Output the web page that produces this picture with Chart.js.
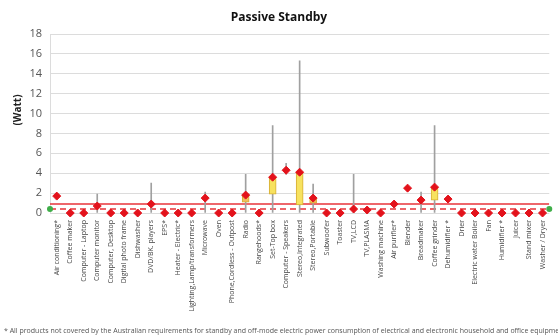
<!DOCTYPE html>
<html>
<head>
<meta charset="utf-8">
<script src="https://cdn.jsdelivr.net/npm/chart.js@4"></script>
<style>
  html, body { margin: 0; padding: 0; background: #fff; }
  #wrap { position: relative; width: 558px; height: 336px; overflow: hidden; }
  #note { position: absolute; left: 4px; top: 326px; font: 7px "Open Sans", sans-serif; color: #555; white-space: nowrap; }
</style>
</head>
<body>
<div id="wrap">
  <canvas id="myChart" width="558" height="336"></canvas>
  <div id="note">* All products not covered by the Australian requirements for standby and off-mode electric power consumption of electrical and electronic household and office equipment</div>
</div>
<script>
const categories = [
  "Air conditioning*", "Coffee maker", "Computer - Laptop", "Computer monitor",
  "Computer, Desktop", "Digital photo frame", "Dishwasher", "DVD/BK. players",
  "EPS*", "Heater - Electric*", "Lighting,Lamp/transformers", "Microwave", "Oven",
  "Phone,Cordless - Outpost", "Radio", "Rangehoods*", "Set-Top box",
  "Computer - Speakers", "Stereo,Integrated", "Stereo,Portable", "Subwoofer",
  "Toaster", "TV,LCD", "TV,PLASMA", "Washing machine", "Air purifier*", "Blender",
  "Breadmaker", "Coffee grinder", "Dehumidifier *", "Drier",
  "Electric water Boiler", "Fan", "Humidifier *", "Juicer", "Stand mixer",
  "Washer / Dryer"
];

// median-ish marker per product (W)
const markerValues = [1.7, 0, 0, 0.7, 0, 0, 0, 0.9, 0, 0, 0, 1.5, 0, 0, 1.8, 0, 3.6,
  4.3, 4.1, 1.5, 0, 0, 0.4, 0.3, 0, 0.9, 2.5, 1.3, 2.6, 1.4, 0, 0, 0, 0, 0, 0, 0];

// whisker range (min / max)
const whiskerLow = [null, null, null, 0, null, null, null, 0, null, null, null, 0, null,
  null, 0, null, 0, 3.9, 0, 0, null, null, 0, null, null, null, null, 0, 0, null,
  null, null, null, null, null, null, null];
const whiskerHigh = [null, null, null, 1.9, null, null, null, 3.0, null, null, null, 2.1, null,
  null, 3.9, null, 8.8, 5.0, 15.3, 2.9, null, null, 3.9, null, null, null, null, 2.1, 8.8, null,
  null, null, null, null, null, null, null];

// box range (quartiles)
const boxLow = [null, null, null, null, null, null, null, null, null, null, null, null, null,
  null, 1.1, null, 1.9, null, 0.8, 1.0, null, null, null, null, null, null, null, null, 1.3, null,
  null, null, null, null, null, null, null];
const boxHigh = [null, null, null, null, null, null, null, null, null, null, null, null, null,
  null, 1.8, null, 3.6, null, 4.1, 1.5, null, null, null, null, null, null, null, null, 2.6, null,
  null, null, null, null, null, null, null];

const limitSolid = 0.9;
const limitDashed = 0.4;

const yTicks = [0, 2, 4, 6, 8, 10, 12, 14, 16, 18];

const pair = (lo, hi) => lo.map((v, i) => (v === null ? null : [v, hi[i]]));

const yTitle = {
  id: "yTitle",
  afterDraw(chart) {
    const c = chart.ctx;
    c.save();
    c.translate(18, 110);
    c.rotate(-Math.PI / 2);
    c.font = "bold 10px 'Open Sans', sans-serif";
    c.fillStyle = "#222";
    c.textAlign = "center";
    c.textBaseline = "middle";
    c.fillText("(Watt)", 0, 0);
    c.restore();
  }
};

const ctx = document.getElementById("myChart").getContext("2d");
new Chart(ctx, {
  type: "bar",
  data: {
    labels: categories,
    datasets: [
      {
        type: "line",
        xAxisID: "x2",
        data: [{ x: 0, y: limitSolid }, { x: 1, y: limitSolid }],
        borderColor: "#e8333a",
        borderWidth: 1.5,
        pointRadius: 0,
        order: 4
      },
      {
        type: "line",
        xAxisID: "x2",
        data: [{ x: 0, y: limitDashed }, { x: 1, y: limitDashed }],
        borderColor: "#e8333a",
        borderWidth: 1.5,
        borderDash: [6, 4],
        pointRadius: 3,
        pointBackgroundColor: "#3fae49",
        pointBorderWidth: 0,
        clip: false,
        order: 3
      },
      {
        data: pair(whiskerLow, whiskerHigh),
        backgroundColor: "#a0a0a0",
        barThickness: 1,
        grouped: false,
        order: 2
      },
      {
        data: pair(boxLow, boxHigh),
        backgroundColor: ["", "", "", "", "", "", "", "", "", "", "", "", "", "", "#f3bd5c", "", "#f7e25f", "", "#f7e25f", "#f3bd5c",
          "", "", "", "", "", "", "", "", "#f7e25f"],
        borderColor: "#d6ae34",
        borderWidth: 1,
        borderSkipped: false,
        barThickness: 7,
        grouped: false,
        order: 1
      },
      {
        type: "line",
        data: markerValues,
        showLine: false,
        pointStyle: "rectRot",
        pointRadius: 4,
        pointBackgroundColor: "#e3121b",
        pointBorderColor: "#e3121b",
        pointBorderWidth: 1,
        clip: false,
        order: 0
      }
    ]
  },
  options: {
    responsive: false,
    animation: false,
    layout: { padding: { left: 0, right: 0, top: 0, bottom: 0 } },
    plugins: {
      legend: { display: false },
      tooltip: { enabled: false },
      title: {
        display: true,
        text: "Passive Standby",
        color: "#111",
        font: { family: "'Open Sans', sans-serif", size: 12, weight: "bold" },
        padding: { top: 10, bottom: 9.6 }
      }
    },
    scales: {
      x: {
        grid: { display: false, drawTicks: false },
        border: { display: false },
        afterFit(scale) { scale.height = 123; },
        ticks: {
          autoSkip: false,
          minRotation: 90,
          maxRotation: 90,
          padding: 7,
          color: "#444",
          font: { family: "'Open Sans', sans-serif", size: 7 }
        }
      },
      x2: {
        type: "linear",
        display: false,
        offset: false,
        min: 0,
        max: 1
      },
      y: {
        min: 0,
        max: 18,
        afterFit(scale) { scale.width = 50; },
        afterBuildTicks(scale) { scale.ticks = yTicks.map(v => ({ value: v })); },
        grid: { color: "#dcdcdc", drawTicks: false },
        border: { color: "#dcdcdc" },
        ticks: {
          padding: 8,
          color: "#555",
          font: { family: "'Open Sans', sans-serif", size: 11 }
        }
      }
    }
  },
  plugins: [yTitle]
});
</script>
</body>
</html>
